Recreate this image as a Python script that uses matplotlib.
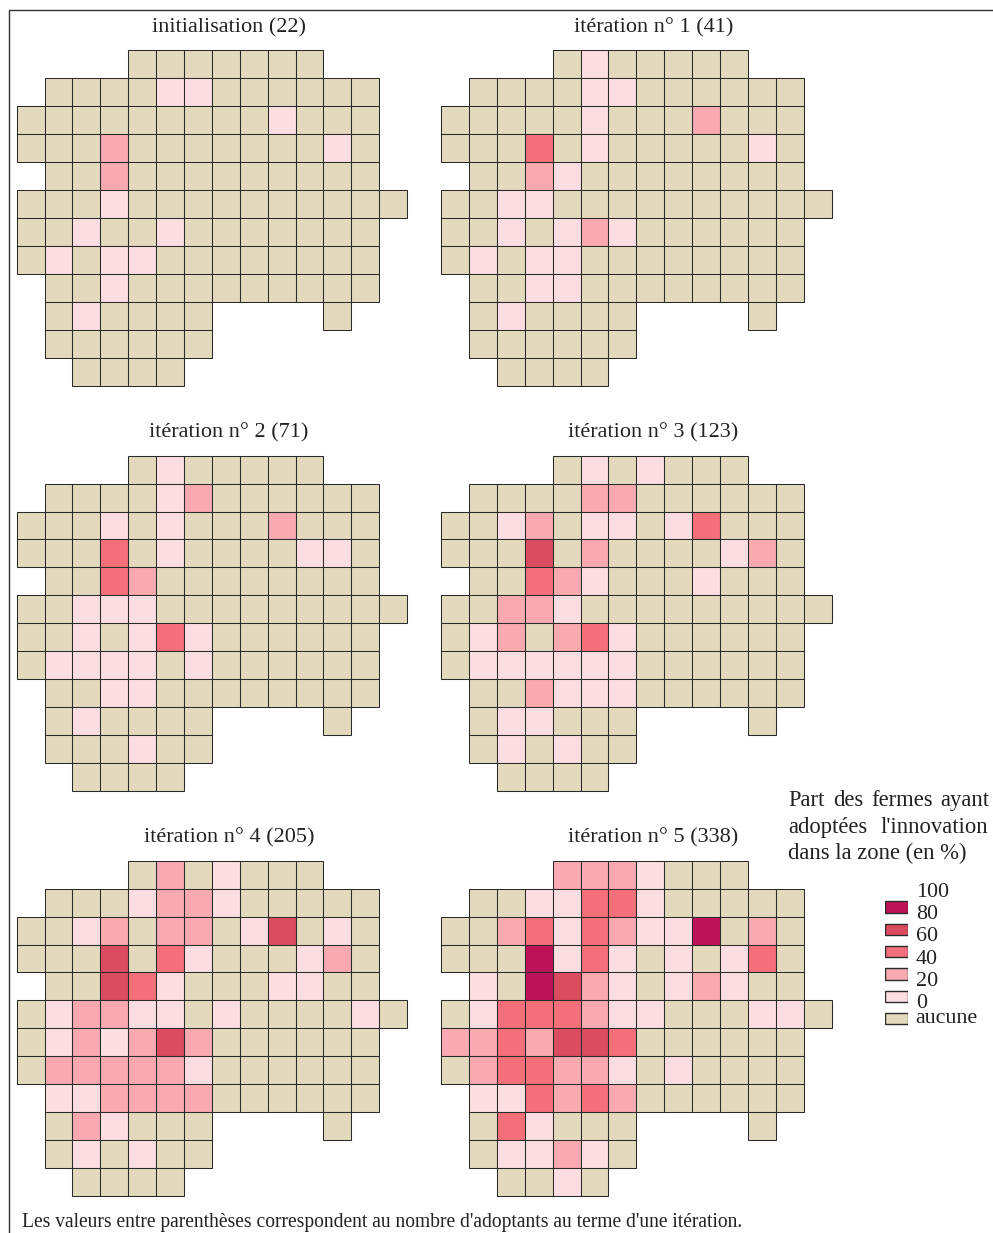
import numpy as np
import matplotlib
matplotlib.use("Agg")
import matplotlib.pyplot as plt
from matplotlib.lines import Line2D

plt.rcParams['font.family'] = ['Liberation Serif', 'DejaVu Serif']

W, H = 993, 1233

# '.' = hors zone, 0 = aucune, 1 = 0-20, 2 = 20-40, 3 = 40-60, 4 = 60-80, 5 = 80-100
init = ["....0000000...",
        ".000011000000.",
        "0000000001000.",
        "0002000000010.",
        ".002000000000.",
        "00010000000000",
        "0010010000000.",
        "0101100000000.",
        ".001000000000.",
        ".010000....0..",
        ".000000.......",
        "..0000........"]
iter1 = ["....0100000...",
         ".000011000000.",
         "0000010002000.",
         "0003010000010.",
         ".002100000000.",
         "00110000000000",
         "0010121000000.",
         "0101100000000.",
         ".001100000000.",
         ".010000....0..",
         ".000000.......",
         "..0000........"]
iter2 = ["....0100000...",
         ".000012000000.",
         "0001010002000.",
         "0003010000110.",
         ".003200000000.",
         "00111000000000",
         "0010131000000.",
         "0111101000000.",
         ".001100000000.",
         ".010000....0..",
         ".000100.......",
         "..0000........"]
iter3 = ["....0101000...",
         ".000022000000.",
         "0012011013000.",
         "0004020000120.",
         ".003210001000.",
         "00221000000000",
         "0120231000000.",
         "0111111000000.",
         ".002111000000.",
         ".011000....0..",
         ".010100.......",
         "..0000........"]
iter4 = ["....0201000...",
         ".000122100000.",
         "0012022014010.",
         "0004031000120.",
         ".004310001100.",
         "01221101000010",
         "0121242000000.",
         "0222221000000.",
         ".112222000000.",
         ".021000....0..",
         ".010100.......",
         "..0000........"]
iter5 = ["....2221000...",
         ".001133100000.",
         "0023132115020.",
         "0005131010130.",
         ".105421012100.",
         "01333211000110",
         "2232443000000.",
         "0233221010000.",
         ".113232000000.",
         ".031000....0..",
         ".011210.......",
         "..0010........"]

map_grids = [init, iter1, iter2, iter3, iter4, iter5]
map_titles = ["initialisation (22)", "itération n° 1 (41)", "itération n° 2 (71)",
              "itération n° 3 (123)", "itération n° 4 (205)", "itération n° 5 (338)"]

class_colors = ["#E3DABD", "#FCDDE2", "#F8AAB0", "#F3707B", "#DC4C61", "#BE1359"]
legend_labels = ["100", "80", "60", "40", "20", "0"]
none_label = "aucune"

legend_title_line1 = ["Part", "des", "fermes", "ayant"]
legend_title_line2 = ["adoptées", "l'innovation"]
legend_title_line3 = "dans la zone (en %)"
note = "Les valeurs entre parenthèses correspondent au nombre d'adoptants au terme d'une itération."

EDGE = "#2a2a2a"

fig = plt.figure(figsize=(W / 100, H / 100), dpi=100, facecolor="white")


def add_axes_px(x0, y0, x1, y1):
    ax = fig.add_axes([x0 / W, 1 - y1 / H, (x1 - x0) / W, (y1 - y0) / H])
    ax.axis("off")
    return ax


def text_px(x, y, s, **kw):
    kw.setdefault("fontsize", 16)
    kw.setdefault("color", "#222222")
    kw.setdefault("va", "baseline")
    fig.text(x / W, 1 - y / H, s, **kw)


map_x = [(16.6, 407.2), (441.0, 831.6)]
map_y = [(50.3, 385.7), (455.7, 790.7), (860.7, 1196.0)]
title_x = [228.8, 653.5]
title_y = [32, 437, 842]

for k, (grid, title) in enumerate(zip(map_grids, map_titles)):
    row, col = k // 2, k % 2
    ax = add_axes_px(map_x[col][0], map_y[row][0], map_x[col][1], map_y[row][1])
    for r, line in enumerate(grid):
        cols = [c for c, ch in enumerate(line) if ch != "."]
        colors = [class_colors[int(line[c])] for c in cols]
        ax.bar(cols, [1] * len(cols), width=1, bottom=r, align="edge", color=colors,
               edgecolor=EDGE, linewidth=0.75, clip_on=False)
    ax.set_xlim(0, 14)
    ax.set_ylim(12, 0)
    text_px(title_x[col], title_y[row], title, ha="center")

# Cadre
frame = add_axes_px(0, 0, W, H)
frame.set_xlim(0, W)
frame.set_ylim(H, 0)
frame.add_line(Line2D([9, 9, W], [H, 10, 10], color="#333333", lw=1.0))

# Légende
leg = add_axes_px(885.3, 895.85, 908.0, 1029.65)
order = list(range(5, -1, -1))
leg.barh(range(6), [1] * 6, height=0.51, color=[class_colors[i] for i in order],
         edgecolor=EDGE, linewidth=1.0)
leg.set_xlim(0, 1)
leg.set_ylim(5.5, -0.5)
for i, lab in enumerate(legend_labels):
    leg.text(1.34, i - 0.46, lab, fontsize=15.8, color="#222222", va="baseline", clip_on=False)
leg.text(1.34, 5.2, none_label, fontsize=15.8, color="#222222", va="baseline", clip_on=False)

for x, word in zip([788.3, 833.5, 871.7, 940.7], legend_title_line1):
    text_px(x, 806, word, fontsize=16.3)
for x, word in zip([788.3, 880.7], legend_title_line2):
    text_px(x, 832.7, word, fontsize=16.3)
text_px(788.3, 859, legend_title_line3, fontsize=16.3)

text_px(21.7, 1227, note, fontsize=14.05)

fig.savefig("out.png", dpi=100, facecolor="white")
